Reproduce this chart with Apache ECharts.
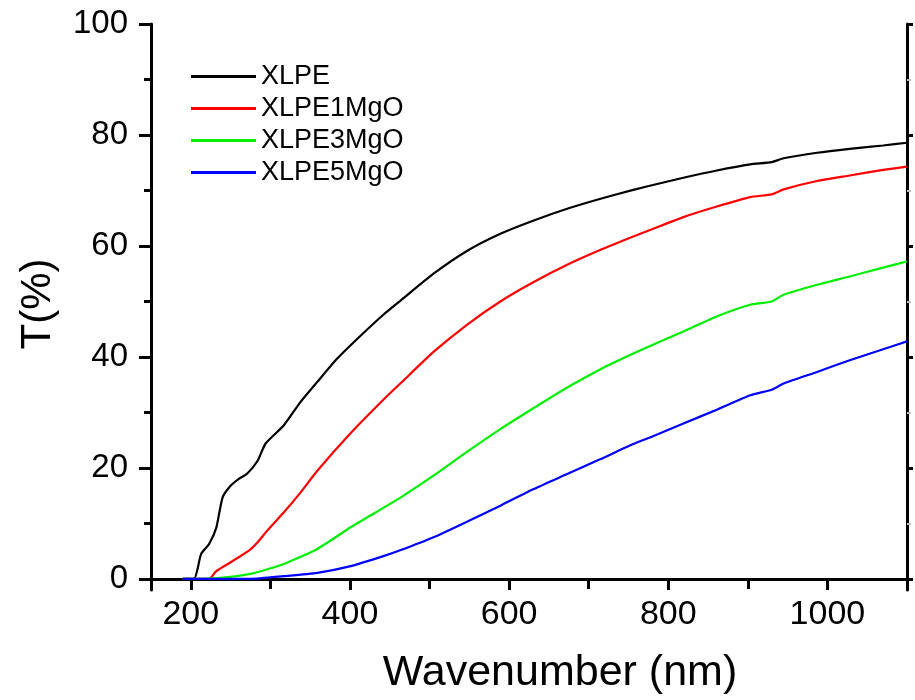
<!DOCTYPE html>
<html><head><meta charset="utf-8">
<script src="https://cdn.jsdelivr.net/npm/echarts@6/dist/echarts.min.js"></script>
<style>html,body{margin:0;padding:0;background:#fff}#c{width:915px;height:700px}</style>
</head><body><div id="c"></div>
<script>
const seriesNames = ['XLPE', 'XLPE1MgO', 'XLPE3MgO', 'XLPE5MgO'];
const seriesColors = ['#000000', '#ff0000', '#00ee00', '#0000ff'];

const xlpeX = [190,204,213,223,232,240,250,260,271,284,294,317,338,359,384,414,442,464,505,547,589,631,673,715,756,790,819,861,903,930,945,987,1028,1070,1100];
const xlpeY = [0,0,4.5,6.3,9.2,14.7,16.8,18,19,21.3,24.4,27.7,31.9,35.5,39.7,43.9,47.6,50.2,55.0,59.1,62.2,64.6,66.7,68.5,70.1,71.3,72.3,73.6,74.7,75.1,75.8,76.8,77.5,78.1,78.6];

const mgo1X = [190,223,232,250,273,284,296,317,338,359,401,442,464,505,547,589,631,673,715,756,790,819,861,903,930,945,987,1028,1070,1100];
const mgo1Y = [0,0,1.4,3,5.1,6.6,8.7,12,15.6,19.5,26.3,32.3,35.3,40.9,45.8,50,53.5,56.6,59.3,61.7,63.6,65.2,67.1,68.8,69.3,70.2,71.7,72.7,73.7,74.3];

const mgo3X = [190,230,275,317,359,401,442,464,505,547,589,631,673,715,756,790,819,861,903,930,945,987,1028,1070,1100];
const mgo3Y = [0,0.1,0.9,2.7,5.4,9.3,12.8,14.7,18.6,22.9,27.0,30.8,34.5,37.8,40.6,42.8,44.6,47.3,49.4,50,51.2,53,54.5,56.1,57.2];

const mgo5X = [190,275,317,359,401,442,464,505,547,589,631,673,715,756,777,819,861,903,930,945,987,1028,1070,1100];
const mgo5Y = [0,0,0.5,1.1,2.3,4.1,5.2,7.5,10.3,13.2,16.2,18.9,21.6,24.3,25.5,28,30.5,33.1,34.1,35.2,37.3,39.4,41.4,42.8];

const xMajorTicks = [200, 400, 600, 800, 1000];
const xMinorTicks = [300, 500, 700, 900, 1100];
const xAllTicks = [200, 300, 400, 500, 600, 700, 800, 900, 1000, 1100];
const yMajorTicks = [0, 20, 40, 60, 80, 100];
const yMinorTicks = [10, 30, 50, 70, 90];
const xTitle = 'Wavenumber (nm)';
const yTitle = 'T(%)';

const xsList = [xlpeX, mgo1X, mgo3X, mgo5X];
const ysList = [xlpeY, mgo1Y, mgo3Y, mgo5Y];

const FONT = '"Liberation Sans", Arial, sans-serif';
const chart = echarts.init(document.getElementById('c'), null, {renderer: 'canvas'});

function axisBase(extra) {
  return Object.assign({
    type: 'value',
    splitLine: {show: false},
    axisLine: {show: true, lineStyle: {color: '#000', width: 3}},
    axisLabel: {show: false},
    axisTick: {show: false}
  }, extra);
}
const plain = v => String(v);

const option = {
  animation: false,
  backgroundColor: '#fff',
  grid: {left: 151, right: 8, top: 24, bottom: 110, containLabel: false},
  legend: {
    orient: 'vertical', left: 186, top: 58,
    icon: 'rect', itemWidth: 65, itemHeight: 3, itemGap: 5,
    textStyle: {fontFamily: FONT, fontSize: 27, color: '#000', lineHeight: 27},
    data: seriesNames
  },
  xAxis: [
    axisBase({min: 150, max: 1100, position: 'bottom',
      axisTick: {show: true, customValues: xMajorTicks, length: 11, lineStyle: {width: 3, color: '#000'}},
      axisLabel: {show: true, customValues: xMajorTicks, formatter: plain, fontFamily: FONT, fontSize: 34, color: '#000', margin: 8}}),
    axisBase({min: 150, max: 1100, position: 'bottom', axisLine: {show: false},
      axisTick: {show: true, customValues: xMinorTicks, length: 7, lineStyle: {width: 3, color: '#000'}}}),
    axisBase({min: 150, max: 1100, position: 'top',
      axisTick: {show: true, inside: true, customValues: xAllTicks, length: 10, lineStyle: {width: 3, color: '#000'}}})
  ],
  yAxis: [
    axisBase({min: -2, max: 100, position: 'left',
      axisTick: {show: true, customValues: yMajorTicks, length: 12, lineStyle: {width: 3, color: '#000'}},
      axisLabel: {show: true, customValues: yMajorTicks, formatter: plain, fontFamily: FONT, fontSize: 33, color: '#000', margin: 23}}),
    axisBase({min: -2, max: 100, position: 'left', axisLine: {show: false},
      axisTick: {show: true, customValues: yMinorTicks, length: 7, lineStyle: {width: 3, color: '#000'}}}),
    axisBase({min: -2, max: 100, position: 'right',
      axisTick: {show: true, customValues: yMajorTicks, length: 6, lineStyle: {width: 3, color: '#000'}}}),
    axisBase({min: -2, max: 100, position: 'right', axisLine: {show: false},
      axisTick: {show: true, customValues: yMinorTicks, length: 4, lineStyle: {width: 2, color: '#bbb'}}})
  ],
  graphic: [
    {type: 'text', x: 560, y: 673, style: {text: xTitle, font: '43px ' + FONT, fill: '#000', align: 'center', verticalAlign: 'middle'}},
    {type: 'text', x: 38, y: 304, rotation: Math.PI / 2, style: {text: yTitle, font: '42px ' + FONT, fill: '#000', align: 'center', verticalAlign: 'middle'}}
  ],
  series: seriesNames.map((name, k) => ({
    name: name,
    type: 'line',
    xAxisIndex: 0, yAxisIndex: 0,
    symbol: 'none',
    smooth: 0.2,
    lineStyle: {color: seriesColors[k], width: 2.2},
    itemStyle: {color: seriesColors[k]},
    data: xsList[k].map((x, i) => [x, ysList[k][i]])
  }))
};
chart.setOption(option);
</script>
</body></html>
